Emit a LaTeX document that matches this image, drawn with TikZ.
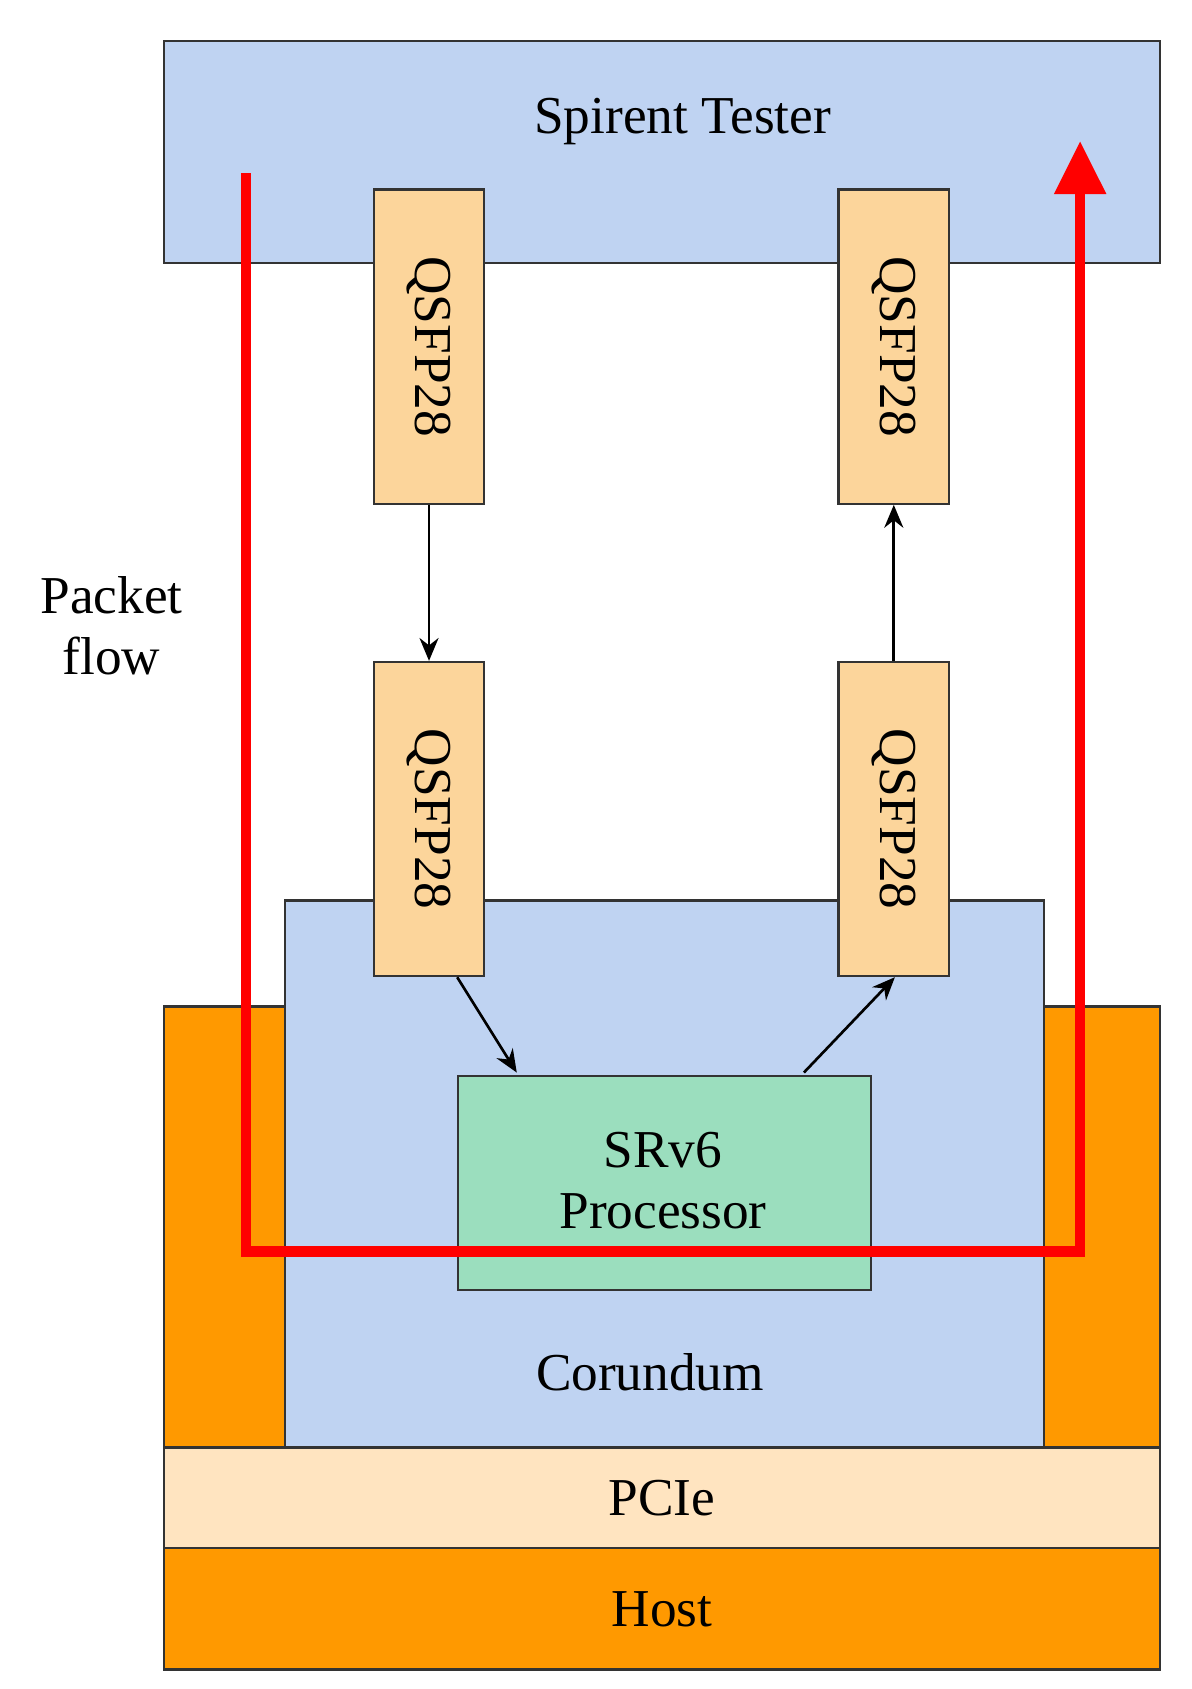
\documentclass[tikz,border=0pt]{standalone}
\usepackage{fontspec}
\setmainfont{Liberation Serif}
\usetikzlibrary{arrows.meta}
\definecolor{lblue}{RGB}{191,211,242}
\definecolor{qsfp}{RGB}{252,213,155}
\definecolor{dorange}{RGB}{255,153,0}
\definecolor{pcie}{RGB}{255,228,192}
\definecolor{srv}{RGB}{155,222,190}
\begin{document}
\begin{tikzpicture}[x=0.02cm,y=-0.02cm,
  box/.style={draw=black!80,line width=1.2pt},
  txt/.style={font=\fontsize{28}{32}\selectfont},
  qs/.style={box,fill=qsfp,minimum width=2.04cm,minimum height=5.8cm,inner sep=0pt},
  ar/.style={-{Stealth[length=12pt,width=10pt]},line width=1.4pt}]
\useasboundingbox (0,0) rectangle (1100,1559);
\node[box,fill=lblue,minimum width=18.4cm,minimum height=4.1cm,anchor=north west] (sp) at (150,37) {};
\node[txt] (spt) at (630,112) {Spirent Tester};
\node[box,fill=dorange,minimum width=18.4cm,minimum height=8.14cm,anchor=north west] (out) at (150,928) {};
\node[box,fill=lblue,minimum width=14.02cm,minimum height=10.1cm,anchor=north west] (cor) at (262,830) {};
\node[txt] (cort) at (600,1267) {Corundum};
\node[box,fill=pcie,minimum width=18.4cm,minimum height=1.86cm,anchor=north west] (pc) at (150,1335) {};
\node[txt] at (pc) {PCIe};
\node[box,fill=dorange,minimum width=18.4cm,minimum height=2.24cm,anchor=north west] (host) at (150,1428) {};
\node[txt] at (host) {Host};
\node[qs] (q1) at (396,320) {};
\node[qs] (q2) at (825,320) {};
\node[qs] (q3) at (396,756) {};
\node[qs] (q4) at (825,756) {};
\foreach \q in {q1,q2,q3,q4} \node[txt,rotate=-90] at (\q) {QSFP28};
\node[box,fill=srv,minimum width=7.62cm,minimum height=3.96cm,anchor=north west] (sr) at (422,992) {};
\node[txt,align=center] at (612,1090) {SRv6\\Processor};
\node[txt,align=center] (pf) at (103,578) {Packet\\flow};
\draw[ar] (q1.south) -- (q3.north);
\draw[ar] (q4.north) -- (q2.south);
\coordinate (a1) at (422,902);
\coordinate (a2) at (477,990);
\coordinate (b1) at (742,990);
\coordinate (b2) at (826,902);
\draw[ar] (a1) -- (a2);
\draw[ar] (b1) -- (b2);
\coordinate (r0) at (227,160);
\coordinate (r1) at (227,1155);
\coordinate (r2) at (997,1155);
\coordinate (r3) at (997,130);
\draw[red,line width=5.5pt,-{Triangle[length=28pt,width=26pt]}] (r0) -- (r1) -- (r2) -- (r3);
\end{tikzpicture}
\end{document}
